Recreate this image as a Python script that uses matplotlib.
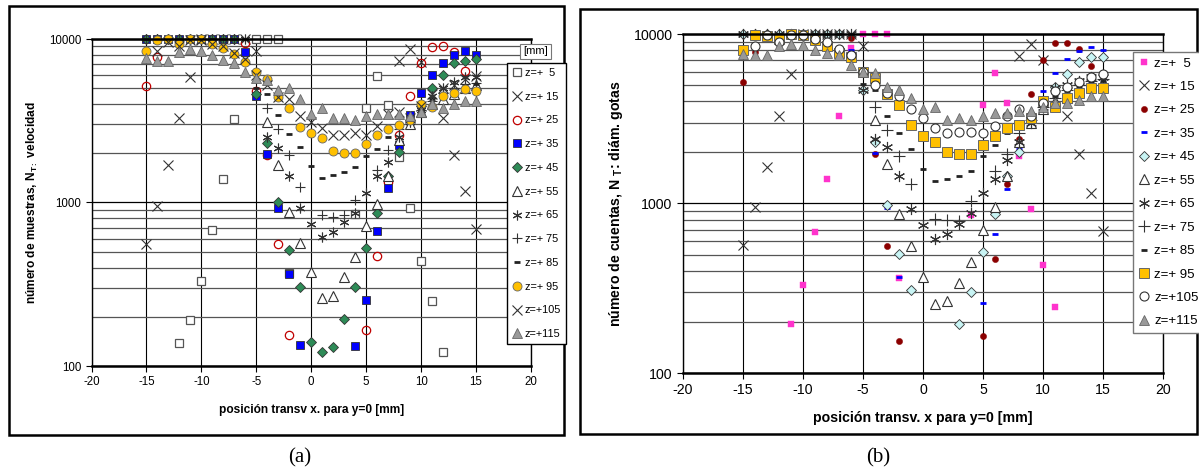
import numpy as np
import matplotlib
matplotlib.use("Agg")
import matplotlib.pyplot as plt
from matplotlib.patches import Rectangle
from matplotlib.ticker import LogLocator, NullFormatter, FixedLocator, FixedFormatter

plt.rcParams['font.family'] = ['Liberation Sans', 'DejaVu Sans']
plt.rcParams['mathtext.fontset'] = 'custom'
plt.rcParams['mathtext.rm'] = 'Liberation Sans'
plt.rcParams['mathtext.bf'] = 'Liberation Sans:bold'
plt.rcParams['axes.unicode_minus'] = False

N = None
# transverse positions x [mm], -15 ... 15
pos = list(range(-15, 16))
z_labels = ['z=+  5', 'z=+ 15', 'z=+ 25', 'z=+ 35', 'z=+ 45', 'z=+ 55',
            'z=+ 65', 'z=+ 75', 'z=+ 85', 'z=+ 95', 'z=+105', 'z=+115']
x_ticks = [-20, -15, -10, -5, 0, 5, 10, 15, 20]
y_ticks = [100, 1000, 10000]

# (a) sample counts for velocity
a_z5 = [N, N, N, 138, 190, 330, 680, 1400, 3250, N, 10000, 10000, 10000, 370, N, N,
        N, N, N, 850, 3800, 5900, 3950, 1900, 930, 440, 250, 122, N, N, N]
a_z15 = [560, 950, 1690, 3300, 5890, 10000, 10000, 10000, 10000, 10000, 8400, N, N, N, N, N,
         N, N, N, N, N, N, N, 7300, 8700, 7200, N, 3300, 1960, 1170, 690]
a_z25 = [5140, 7800, N, N, N, N, N, N, N, 9500, 4800, 1940, 560, 155, N, N,
         N, N, N, N, 165, 470, 1330, 2600, 4500, 7100, 8900, 9000, 8300, 6400, N]
a_z35 = [10000, 10000, 10000, 10000, 10000, 10000, 10000, 10000, 10000, 8300, 4500, 1980, 920, 365, 135, N,
         N, N, N, 132, 255, 670, 1220, 2250, 3450, 4700, 6000, 7100, 8000, 8400, 8000]
a_z45 = [10000, 10000, 10000, 10000, 10000, 10000, 10000, 10000, 10000, N, 4600, 2300, 1000, 510, 305, 140,
         122, 130, 195, 305, 530, 860, 1460, 2050, 3200, 3900, 5000, 6000, 7100, 7300, 7500]
a_z55 = [N, N, N, N, N, N, N, N, N, N, N, 3100, 1700, 870, 565, 376,
         261, 268, 350, 464, 718, 980, 1450, 2400, 3000, 3600, 4000, 4300, 4600, 5000, 5200]
a_z65 = [10000, 10000, 10000, 10000, 10000, 10000, 10000, 10000, 10000, 10000, N, 2500, 2150, 1450, 930, 738,
         615, 660, 763, 863, 1140, 1450, 1780, 2500, 3100, 3700, 4500, 5000, 5460, 5860, 5860]
a_z75 = [N, N, N, N, N, N, N, N, N, N, N, 3800, 2800, 1950, 1250, N,
         840, 820, 840, 1035, N, 1580, 2100, 2800, 3100, 3700, 4200, 4700, 5000, 5300, 5400]
a_z85 = [N, N, N, N, N, N, N, N, N, N, 5000, 4620, 3430, 2620, 2180, 1670,
         1410, 1480, 1540, 1650, 1920, 2120, 2500, 2900, 3200, 3700, 4300, 4600, 4900, 5200, 5300]
a_z95 = [8450, 9800, 10000, 9300, 10000, 10000, 9300, 8810, 8100, 7230, 6300, 5690, 4420, 3790, 2900, 2650,
         2480, 2070, 2010, 2010, 2280, 2590, 2820, 2980, 3200, 4000, 3840, 4480, 4680, 4940, 4810]
a_z105 = [N, 8500, 9600, 9000, 9900, 9800, 9300, 9000, 8200, 7500, 6000, 5200, 4400, 4290, 3400, 3100,
          2860, 2590, 2600, 2660, 2600, 2940, 3480, 3600, 3300, 3900, 4600, 5000, 5200, 5700, 5900]
a_z115 = [7600, 7300, 7300, 8300, 8700, 8400, 8000, 7400, 7100, 6300, 5800, 5600, 4900, 5000, 4300, 3500,
          3800, 3300, 3300, 3200, 3400, 3500, 3500, 3500, 3400, 3600, 4000, 3800, 4000, 4200, 4200]

# (b) counts for drop diameter
b_z5 = [N, N, N, N, 195, 330, 680, 1400, 3300, 8300, 10000, 10000, 10000, 365, N, N,
        N, N, N, 860, 3800, 5900, 3900, 1900, 930, 435, 245, N, N, N, N]
b_z15 = [570, 950, 1650, 3300, 5800, 10000, 10000, 10000, 10000, 10000, 8500, N, N, N, N, N,
         N, N, N, N, N, N, N, 7400, 8700, 7000, N, 3300, 1950, 1150, 690]
b_z25 = [5200, 7800, N, N, N, N, N, N, N, 9500, N, 1960, 560, 155, N, N,
         N, N, N, N, 165, 470, 1300, 2400, 4400, 7000, 8800, 8900, 8200, 6500, N]
b_z35 = [10000, 10000, 10000, 10000, 10000, 10000, 10000, 10000, 10000, 8100, 4600, 1980, 940, 370, N, N,
         N, N, N, N, 260, 660, 1220, 2100, 3300, 4600, 5900, 7100, 7900, 8400, 8000]
b_z45 = [10000, 10000, 10000, 10000, 10000, 10000, 10000, 10000, 10000, N, 4700, 2300, 980, 505, 310, N,
         N, N, 195, 300, 520, 870, 1450, 2000, 3100, 3800, 4900, 5800, 6800, 7300, 7300]
b_z55 = [N, N, N, N, N, N, N, N, N, N, N, 3100, 1700, 870, 560, 370,
         255, 265, 340, 450, 700, 950, 1450, 2300, 3000, 3600, 4000, 4200, 4600, 5000, 5200]
b_z65 = [10000, 10000, 10000, 10000, 10000, 10000, 10000, 10000, 10000, 10000, 4700, 2400, 2150, 1450, 925, 750,
         620, 660, 760, 880, 1150, 1400, 1800, 2300, 3000, 3700, 4800, 5000, 5300, 5600, 5600]
b_z75 = [N, N, N, N, N, N, N, N, N, N, N, 3700, 2700, 1900, 1300, N,
         810, 800, 790, 1030, N, 1550, 1950, 2600, 3100, 3700, 4200, 4700, 5000, 5300, 5400]
b_z85 = [N, N, N, N, N, N, N, N, N, N, 5100, 4700, 3300, 2600, 2100, 1600,
         1350, 1400, 1450, 1550, 1900, 2200, 2600, 2900, 3200, 3700, 4300, 4600, 4900, 5200, 5300]
b_z95 = [8000, 9800, 9700, 9300, 10000, 9900, 9200, 8500, 7700, 7300, 6000, 5500, 4400, 3800, 2900, 2500,
         2300, 2000, 1950, 1950, 2200, 2500, 2800, 2900, 3200, 4000, 3700, 4200, 4500, 4800, 4800]
b_z105 = [N, 8500, 9800, 9000, 9900, 9800, 9300, 9000, 8200, 7500, 6000, 5000, 4500, 4300, 3600, 3200,
          2800, 2600, 2650, 2650, 2600, 2850, 3300, 3600, 3300, 3900, 4600, 4900, 5200, 5600, 5800]
b_z115 = [7600, 7500, 7500, 8500, 8700, 8600, 8000, 7700, 7500, 6600, 6000, 5900, 4900, 4700, 4200, 3600,
          3700, 3100, 3200, 3100, 3300, 3400, 3400, 3500, 3500, 3700, 3900, 3900, 4100, 4300, 4300]

a_series = [a_z5, a_z15, a_z25, a_z35, a_z45, a_z55, a_z65, a_z75, a_z85, a_z95, a_z105, a_z115]
b_series = [b_z5, b_z15, b_z25, b_z35, b_z45, b_z55, b_z65, b_z75, b_z85, b_z95, b_z105, b_z115]

ASTER = (6, 2, 0)
a_styles = [
    dict(marker='s', ms=5.5, mfc='white', mec='#555555', mew=0.9),
    dict(marker='x', ms=6.5, mfc='none', mec='#333333', mew=0.8),
    dict(marker='o', ms=6, mfc='none', mec='#c00000', mew=0.9),
    dict(marker='s', ms=6, mfc='#0000ff', mec='#333333', mew=0.6),
    dict(marker='D', ms=5, mfc='#2e8b57', mec='#333333', mew=0.6),
    dict(marker='^', ms=6.5, mfc='white', mec='#333333', mew=0.8),
    dict(marker=ASTER, ms=7, mfc='none', mec='#333333', mew=0.8),
    dict(marker='+', ms=7, mfc='none', mec='#333333', mew=0.8),
    dict(marker='_', ms=5, mfc='none', mec='#222222', mew=2.0),
    dict(marker='o', ms=6.5, mfc='#ffc000', mec='#666666', mew=0.6),
    dict(marker='x', ms=6.5, mfc='none', mec='#333333', mew=0.8),
    dict(marker='^', ms=7, mfc='#999999', mec='#666666', mew=0.6),
]
b_styles = [
    dict(marker='s', ms=5, mfc='#ff33cc', mec='#ff33cc', mew=0.3),
    dict(marker='x', ms=7, mfc='none', mec='#333333', mew=0.8),
    dict(marker='o', ms=4.5, mfc='#8b0000', mec='#8b0000', mew=0.3),
    dict(marker='_', ms=5, mfc='none', mec='#0000ff', mew=2.0),
    dict(marker='D', ms=5.5, mfc='#c8f4f4', mec='#333333', mew=0.6),
    dict(marker='^', ms=7, mfc='white', mec='#333333', mew=0.8),
    dict(marker=ASTER, ms=8, mfc='none', mec='#333333', mew=0.8),
    dict(marker='+', ms=8, mfc='none', mec='#333333', mew=0.8),
    dict(marker='_', ms=5, mfc='none', mec='#222222', mew=2.0),
    dict(marker='s', ms=6.5, mfc='#ffc000', mec='#666666', mew=0.7),
    dict(marker='o', ms=6.5, mfc='white', mec='#333333', mew=0.8),
    dict(marker='^', ms=7.5, mfc='#999999', mec='#666666', mew=0.6),
]

W, H = 1199, 473
fig = plt.figure(figsize=(W / 100, H / 100), dpi=100)


def px_rect(x0, y0, x1, y1):
    return [x0 / W, 1 - y1 / H, (x1 - x0) / W, (y1 - y0) / H]


def panel(rect, series, styles, tick_fs):
    ax = fig.add_axes(px_rect(*rect))
    ax.set_yscale('log')
    ax.set_xlim(-20, 20)
    ax.set_ylim(100, 10000)
    ax.xaxis.set_major_locator(FixedLocator(x_ticks))
    ax.yaxis.set_major_locator(FixedLocator(y_ticks))
    ax.yaxis.set_major_formatter(FixedFormatter([str(v) for v in y_ticks]))
    ax.yaxis.set_minor_locator(LogLocator(base=10, subs=np.arange(2, 10)))
    ax.yaxis.set_minor_formatter(NullFormatter())
    ax.tick_params(axis='both', which='major', direction='out', length=4,
                   width=0.8, labelsize=tick_fs, color='black')
    ax.tick_params(axis='y', which='minor', length=0)
    ax.grid(True, axis='x', which='major', color='black', lw=0.8)
    ax.grid(True, axis='y', which='major', color='black', lw=0.9)
    ax.grid(True, axis='y', which='minor', color='#555555', lw=0.9)
    ax.set_axisbelow(True)
    for side in ['left', 'right']:
        ax.spines[side].set_linewidth(1.0)
    for side in ['top', 'bottom']:
        ax.spines[side].set_linewidth(1.8)
    handles = []
    for vals, st, lab in zip(series, styles, z_labels):
        y = np.array([np.nan if v is None else v for v in vals], dtype=float)
        h, = ax.plot(pos, y, ls='none', label=lab, clip_on=False, **st)
        handles.append(h)
    return ax, handles


ax_a, h_a = panel((91.5, 39, 531, 366), a_series, a_styles, 8.3)
ax_b, h_b = panel((683, 34, 1163, 373), b_series, b_styles, 10.2)

ax_a.set_xlabel('posición transv x. para y=0 [mm]', fontsize=8.6, fontweight='bold', labelpad=11)
ax_a.set_ylabel(r'número de muestras, N$_{\mathbf{T:}}$ velocidad', fontsize=8.6,
                fontweight='bold', labelpad=6)
ax_b.set_xlabel('posición transv. x para y=0 [mm]', fontsize=10.2, fontweight='bold', labelpad=10)
ax_b.set_ylabel(r'número de cuentas, N $_{\mathbf{T}}$: diám. gotas', fontsize=10.2,
                fontweight='bold', labelpad=6)

leg_a = fig.legend(handles=h_a, loc='upper left', bbox_to_anchor=(507 / W, 1 - 63 / H),
                   fontsize=7.8, frameon=True, fancybox=False, edgecolor='black',
                   framealpha=1, handlelength=0.9, handletextpad=0.3, borderpad=0.45,
                   labelspacing=1.27, borderaxespad=0)
leg_a.get_frame().set_linewidth(1.0)
fig.text(535.5 / W, 1 - 51.5 / H, '[mm]', fontsize=8, ha='center', va='center',
         bbox=dict(boxstyle='square,pad=0.25', fc='white', ec='#777777', lw=0.8))

leg_b = fig.legend(handles=h_b, loc='upper left', bbox_to_anchor=(1133 / W, 1 - 52 / H),
                   fontsize=9.5, frameon=True, fancybox=False, edgecolor='#777777',
                   framealpha=1, handlelength=0.9, handletextpad=0.3, borderpad=0.4,
                   labelspacing=0.85, borderaxespad=0)
leg_b.get_frame().set_linewidth(1.0)

# outer frames around each panel
fig.add_artist(Rectangle((9 / W, 1 - 435 / H), 555 / W, 429 / H, transform=fig.transFigure,
                         fill=False, ec='black', lw=1.8))
fig.add_artist(Rectangle((580 / W, 1 - 434 / H), 617 / W, 425 / H, transform=fig.transFigure,
                         fill=False, ec='black', lw=1.8))

fig.text(300 / W, 1 - 458 / H, '(a)', fontsize=15, family='Liberation Serif', ha='center', va='center')
fig.text(878 / W, 1 - 458 / H, '(b)', fontsize=15, family='Liberation Serif', ha='center', va='center')

fig.savefig('out.png', dpi=100)
